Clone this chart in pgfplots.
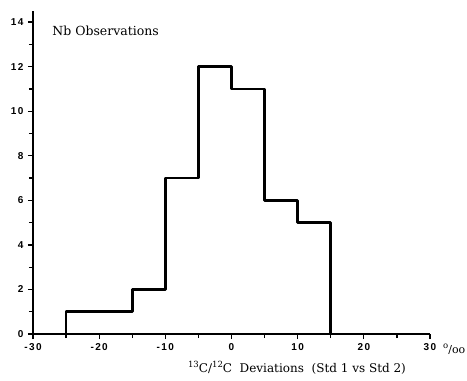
\documentclass[border=0pt]{standalone}
\usepackage{pgfplots}
\pgfplotsset{compat=1.18}
\usepackage{fontspec}
\setmainfont{DejaVu Serif}
\newfontfamily\ticksf[LetterSpace=14]{Liberation Sans}
\newcommand{\sups}[1]{\raisebox{0.75ex}{\fontsize{8.5}{9}\selectfont #1}}
\begin{document}
\begin{tikzpicture}
\useasboundingbox (-33pt,-47pt) rectangle (434pt,334pt);
\begin{axis}[
  at={(0,0)}, anchor=south west,
  scale only axis, width=397pt, height=323pt,
  xmin=-30, xmax=30, ymin=0, ymax=14.5,
  axis x line=bottom, axis y line=left,
  axis line style={line width=1.5pt, -},
  xtick={-30,-20,...,30}, minor xtick={-25,-15,...,25},
  ytick={0,2,...,14}, minor ytick={1,3,...,13},
  xticklabels={-30,-20,-10,0,10,20,30},
  tick align=outside,
  major tick length=5pt, minor tick length=4pt,
  tick style={line width=1.3pt, black},
  /pgf/number format/assume math mode=true,
  ticklabel style={font=\ticksf\bfseries\fontsize{10}{11}\selectfont},
  xticklabel style={yshift=-1pt},
  yticklabel style={xshift=-1pt},
  clip=false,
]
\addplot[black, line width=2.6pt, line join=round, line cap=round] coordinates {
 (-25,0) (-25,1) (-15,1) (-15,2) (-10,2) (-10,7) (-5,7) (-5,12) (0,12) (0,11)
 (5,11) (5,6) (10,6) (10,5) (15,5) (15,0)
};
\node[anchor=west, font=\fontsize{12.5}{14}\selectfont] at (axis cs:-27.6,13.6) {Nb Observations};
\node[anchor=base west, font=\fontsize{11}{12}\selectfont, inner sep=0pt] at ([xshift=13pt,yshift=-19pt]axis cs:30,0) {\sups{o}/oo};
\node[font=\fontsize{12}{14}\selectfont] at ([yshift=-34pt]rel axis cs:0.665,0) {\sups{13}C/\sups{12}C\ \ Deviations\ \ (Std 1 vs Std 2)};
\end{axis}
\end{tikzpicture}
\end{document}
